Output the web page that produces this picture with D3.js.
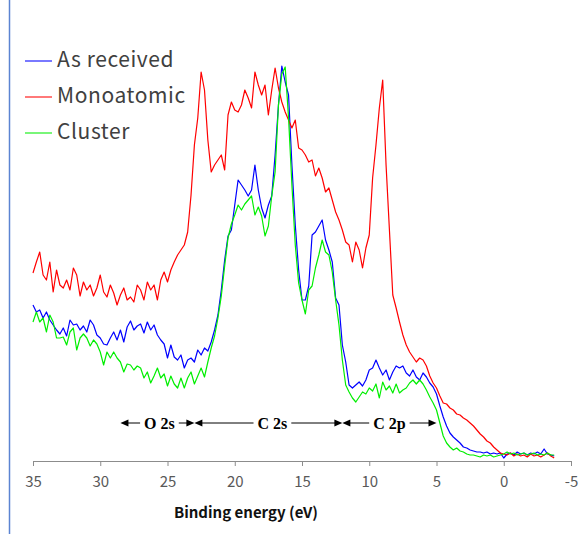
<!DOCTYPE html>
<html>
<head>
<meta charset="utf-8">
<script src="https://cdn.jsdelivr.net/npm/d3@7"></script>
<style>
  body { margin: 0; background: #fff; }
  svg { display: block; }
</style>
</head>
<body>
<svg width="588" height="534"></svg>
<script>
// binding energy grid (eV), every 0.25 eV
var energy = [
    35,34.75,34.5,34.25,34,33.75,33.5,33.25,33,32.75,32.5,32.25,32,31.75,31.5,31.25,31,30.75,30.5,30.25,
    30,29.75,29.5,29.25,29,28.75,28.5,28.25,28,27.75,27.5,27.25,
    27,26.75,26.5,26.25,26,25.75,25.5,25.25,25,24.75,24.5,24.25,24,23.75,23.5,23.25,23,22.75,22.5,22.25,22,21.75,21.5,21.25,21,20.75,20.5,20.25,20,
    19.75,19.5,19.25,19,18.75,18.5,18.25,18,17.75,17.5,17.25,17,16.75,16.5,16.25,16,15.75,15.5,15.25,15,14.75,14.5,14.25,14,13.75,13.5,13.25,13,12.75,12.5,12.25,12,
    11.75,11.5,11.25,11,10.75,10.5,10.25,10,9.75,9.5,9.25,9,8.75,8.5,8.25,8,7.75,7.5,7.25,7,6.75,6.5,6.25,6,5.75,5.5,5.25,5,4.75,4.5,4.25,4,3.75,3.5,3.25,3,2.75,2.5,2.25,2,1.75,1.5,1.25,1,0.75,0.5,0.25,0,
    -0.25,-0.5,-0.75,-1,-1.25,-1.5,-1.75,-2,-2.25,-2.5,-2.75,-3,-3.25,-3.5,-3.75
];

// intensities (arb. units)
var asReceived = [
    153,146,148,140,146,138,133,128,124,130,122,138,133,134,128,132,126,138,133,123,
    120,114,113,120,126,118,128,116,131,137,128,132,
    134,125,136,128,133,123,118,114,100,113,101,98,103,90,98,100,96,108,103,110,107,116,128,143,168,198,222,228,253,
    278,273,268,262,268,293,268,250,240,253,262,303,353,392,376,363,293,233,188,158,158,172,223,226,232,238,218,208,196,160,153,113,
    96,73,70,73,76,72,78,88,90,98,90,83,88,78,86,92,90,92,85,82,88,81,78,85,81,75,71,64,52,41,32,25,21,18,15,11,10,8,7,6,6,5,6,4,5,4,5,0,
    4,5,3,6,4,5,3,5,4,6,4,9,4,3,2
];
var monoatomic = [
    185,196,206,183,178,196,166,188,173,170,178,168,190,183,162,176,168,173,162,170,
    183,166,161,173,165,153,163,170,158,161,156,173,
    168,158,176,168,173,158,178,186,176,188,196,203,208,213,226,263,313,340,386,368,318,286,293,298,303,288,343,356,348,
    346,353,368,360,350,386,373,363,373,343,368,390,370,356,346,338,330,338,310,308,303,296,298,282,290,280,266,270,258,246,238,228,
    216,213,196,216,208,190,210,223,280,313,350,378,293,228,163,150,136,123,113,106,101,96,100,98,92,82,75,70,62,55,54,50,48,44,43,40,38,35,32,28,24,21,17,15,11,8,5,4,
    3,5,2,4,2,3,1,4,2,3,1,3,5,2,0
];
var cluster = [
    136,146,136,140,126,143,136,120,120,121,113,126,130,108,120,124,120,112,118,114,
    106,93,106,100,106,100,96,86,94,93,88,92,
    90,80,86,75,82,90,80,84,72,82,74,70,80,70,80,86,74,82,90,81,96,110,122,140,162,192,220,234,243,
    253,248,254,258,262,243,251,242,222,232,262,286,353,384,391,340,273,213,175,158,144,168,172,190,203,218,206,203,186,158,133,98,
    73,66,60,56,61,66,64,70,67,74,60,76,68,72,65,74,65,68,70,75,78,74,78,74,68,61,55,48,35,22,15,11,8,10,7,6,4,3,3,2,1,3,2,3,1,2,3,4,
    6,4,5,3,4,5,3,4,5,3,4,3,5,3,3
];

var seriesNames = ["As received", "Monoatomic", "Cluster"];
var seriesColors = ["#0000ff", "#ff0000", "#00ee00"];
var xTicks = [35, 30, 25, 20, 15, 10, 5, 0, -5];

// orbital regions marked under the spectra
var regions = [
    {label: "O 2s", from: 28.5, to: 23, at: 25.6},
    {label: "C 2s", from: 23, to: 12, at: 17.2},
    {label: "C 2p", from: 12, to: 5, at: 8.5}
];

var svg = d3.select("svg");

var x = d3.scaleLinear().domain([35, -5]).range([33, 571]),
    y = d3.scaleLinear().domain([0, 400]).range([458, 58]);

// left frame edge
svg.append("line")
    .attr("x1", 9.5).attr("x2", 9.5)
    .attr("y1", 0).attr("y2", 534)
    .attr("stroke", "#5b84d2")
    .attr("stroke-width", 1.5);

var xAxis = d3.axisBottom(x)
    .tickValues(xTicks)
    .tickSize(5)
    .tickPadding(10)
    .tickFormat(function (d) { return String(d); });   // plain hyphen, like the original

var gx = svg.append("g")
    .attr("transform", "translate(0,461)")
    .call(xAxis);
gx.select(".domain").attr("stroke", "#8c8c8c");
gx.selectAll(".tick line").attr("stroke", "#8c8c8c");
gx.selectAll(".tick text")
    .attr("fill", "#595959")
    .style("font-family", "'Noto Sans CJK JP', 'Noto Sans', sans-serif")
    .style("font-size", "15px");

svg.append("text")
    .attr("x", 246)
    .attr("y", 518)
    .attr("text-anchor", "middle")
    .style("font-family", "'Noto Sans CJK JP', 'Noto Sans', sans-serif")
    .style("font-size", "15px")
    .style("font-weight", "bold")
    .attr("fill", "#111")
    .text("Binding energy (eV)");

// spectra
var series = [asReceived, monoatomic, cluster];

var line = d3.line()
    .x(function (d, i) { return x(energy[i]); })
    .y(function (d) { return y(d); });

series.forEach(function (vals, k) {
    svg.append("path")
        .datum(vals)
        .attr("fill", "none")
        .attr("stroke", seriesColors[k])
        .attr("stroke-width", 1.2)
        .attr("stroke-linejoin", "round")
        .attr("d", line);
});

// region arrows
var ay = 423;
var ann = svg.append("g");
regions.forEach(function (r) {
    var x0 = x(r.from), x1 = x(r.to), tx = x(r.at);
    var t = ann.append("text")
        .attr("x", tx)
        .attr("y", ay + 6)
        .attr("text-anchor", "middle")
        .style("font-family", "'Liberation Serif', 'Times New Roman', serif")
        .style("font-size", "16px")
        .style("font-weight", "bold")
        .text(r.label);
    var w = t.node().getComputedTextLength();
    ann.append("line")
        .attr("x1", x0 + 6).attr("x2", tx - w / 2 - 4)
        .attr("y1", ay).attr("y2", ay)
        .attr("stroke", "#000");
    ann.append("line")
        .attr("x1", tx + w / 2 + 4).attr("x2", x1 - 6)
        .attr("y1", ay).attr("y2", ay)
        .attr("stroke", "#000");
    ann.append("path")
        .attr("d", "M" + x0 + "," + ay + "L" + (x0 + 8) + "," + (ay - 3.5) + "L" + (x0 + 8) + "," + (ay + 3.5) + "Z")
        .attr("fill", "#000");
    ann.append("path")
        .attr("d", "M" + x1 + "," + ay + "L" + (x1 - 8) + "," + (ay - 3.5) + "L" + (x1 - 8) + "," + (ay + 3.5) + "Z")
        .attr("fill", "#000");
});

// legend
var legend = svg.append("g");
seriesNames.forEach(function (name, k) {
    var ly = 61 + k * 36;
    legend.append("line")
        .attr("x1", 25).attr("x2", 52)
        .attr("y1", ly).attr("y2", ly)
        .attr("stroke", seriesColors[k])
        .attr("stroke-opacity", 0.7)
        .attr("stroke-width", 1.5);
    legend.append("text")
        .attr("x", 57)
        .attr("y", ly + 6)
        .attr("fill", "#404040")
        .style("font-family", "'Noto Sans CJK JP', 'Noto Sans', sans-serif")
        .style("font-size", "21px")
        .style("letter-spacing", "0.6px")
        .text(name);
});
</script>
</body>
</html>
